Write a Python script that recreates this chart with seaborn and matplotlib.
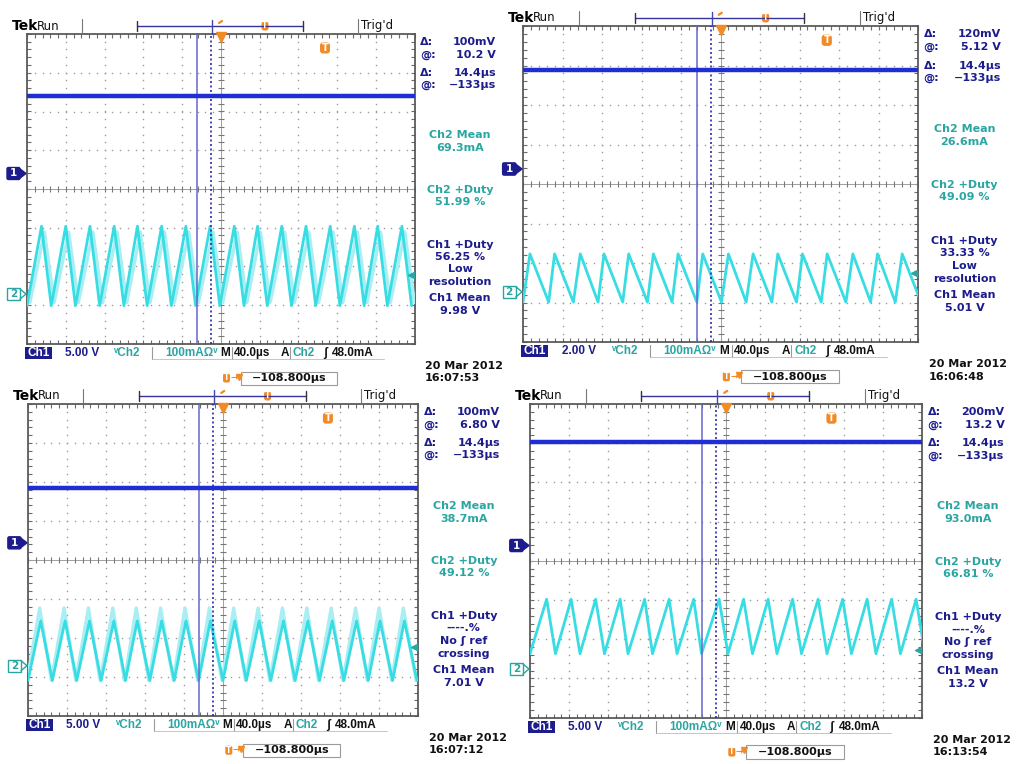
import numpy as np
import pandas as pd
import matplotlib
matplotlib.use("Agg")
import matplotlib.pyplot as plt
from matplotlib.patches import FancyBboxPatch, Rectangle, Polygon
import seaborn as sns

sns.set_theme(style="white")
plt.rcParams["font.family"] = ["DejaVu Sans"]

W, H = 1018, 764

# ---- acquisition settings shared by the four captures ----
time_per_div = 40.0        # µs/div
ch2_scale = 100.0          # mA/div
ch2_trigger = 48.0         # mA
horiz_position = -108.8    # µs
cursor_at = -133.0         # µs
cursor_delta = 14.4        # µs
date_text = "20 Mar 2012"

# ---- capture 1 (16:07:53) ----
c1_clock = "16:07:53"
c1_ch1_scale = 5.00
c1_ch1_mean = 9.98
c1_ch1_offset = 0.40
c1_ch2_offset = -2.71
c1_peaks_us = [15, 40, 65, 90, 114, 139, 164, 189, 214, 238, 263, 288, 313, 338, 362, 387]
c1_troughs_us = [0, 25, 50, 75, 100, 124, 149, 174, 199, 224, 248, 273, 298, 323, 348, 372, 397]
c1_peak_ma = [175, 160]      # main trace, ghost trace
c1_trough_ma = [-30, -22]
c1_ghost_shift_us = 3
c1_hcursor = ["100mV", "10.2 V"]
c1_ch2_mean = "69.3mA"
c1_ch2_duty = "51.99 %"
c1_ch1_duty = ["56.25 %", "Low", "resolution"]

# ---- capture 2 (16:06:48) ----
c2_clock = "16:06:48"
c2_ch1_scale = 2.00
c2_ch1_mean = 5.01
c2_ch1_offset = 0.38
c2_ch2_offset = -2.73
c2_peaks_us = [7, 32, 58, 82, 107, 132, 157, 182, 208, 233, 258, 283, 308, 334, 359, 384]
c2_troughs_us = [0, 26, 51, 76, 101, 126, 151, 176, 201, 226, 252, 277, 302, 327, 352, 377, 403]
c2_peak_ma = [96, 96]
c2_trough_ma = [-26, -26]
c2_ghost_shift_us = 0
c2_hcursor = ["120mV", "5.12 V"]
c2_ch2_mean = "26.6mA"
c2_ch2_duty = "49.09 %"
c2_ch1_duty = ["33.33 %", "Low", "resolution"]

# ---- capture 3 (16:07:12) ----
c3_clock = "16:07:12"
c3_ch1_scale = 5.00
c3_ch1_mean = 7.01
c3_ch1_offset = 0.44
c3_ch2_offset = -2.71
c3_peaks_us = [13, 38, 63, 88, 112, 137, 162, 187, 212, 237, 262, 287, 312, 337, 361, 386]
c3_troughs_us = [0, 25, 50, 75, 100, 125, 150, 175, 200, 224, 249, 274, 299, 324, 349, 374, 399]
c3_peak_ma = [115, 148]
c3_trough_ma = [-38, -38]
c3_ghost_shift_us = -1
c3_hcursor = ["100mV", "6.80 V"]
c3_ch2_mean = "38.7mA"
c3_ch2_duty = "49.12 %"
c3_ch1_duty = ["----.%", "No \u0283 ref", "crossing"]

# ---- capture 4 (16:13:54) ----
c4_clock = "16:13:54"
c4_ch1_scale = 5.00
c4_ch1_mean = 13.2
c4_ch1_offset = 0.39
c4_ch2_offset = -2.76
c4_peaks_us = [17, 42, 67, 92, 117, 142, 167, 193, 218, 243, 268, 294, 319, 344, 369, 394]
c4_troughs_us = [0, 26, 51, 76, 100, 125, 150, 175, 202, 227, 252, 277, 303, 328, 353, 378, 403]
c4_peak_ma = [178, 178]
c4_trough_ma = [39, 39]
c4_ghost_shift_us = 0
c4_hcursor = ["200mV", "13.2 V"]
c4_ch2_mean = "93.0mA"
c4_ch2_duty = "66.81 %"
c4_ch1_duty = ["----.%", "No \u0283 ref", "crossing"]

captures = [
    dict(clock=c1_clock, ch1_scale=c1_ch1_scale, ch1_mean=c1_ch1_mean, ch1_offset=c1_ch1_offset,
         ch2_offset=c1_ch2_offset, peaks=c1_peaks_us, troughs=c1_troughs_us, peak_ma=c1_peak_ma,
         trough_ma=c1_trough_ma, ghost=c1_ghost_shift_us, hcur=c1_hcursor, ch2_mean=c1_ch2_mean,
         ch2_duty=c1_ch2_duty, ch1_duty=c1_ch1_duty, has_ghost=True),
    dict(clock=c2_clock, ch1_scale=c2_ch1_scale, ch1_mean=c2_ch1_mean, ch1_offset=c2_ch1_offset,
         ch2_offset=c2_ch2_offset, peaks=c2_peaks_us, troughs=c2_troughs_us, peak_ma=c2_peak_ma,
         trough_ma=c2_trough_ma, ghost=c2_ghost_shift_us, hcur=c2_hcursor, ch2_mean=c2_ch2_mean,
         ch2_duty=c2_ch2_duty, ch1_duty=c2_ch1_duty, has_ghost=False),
    dict(clock=c3_clock, ch1_scale=c3_ch1_scale, ch1_mean=c3_ch1_mean, ch1_offset=c3_ch1_offset,
         ch2_offset=c3_ch2_offset, peaks=c3_peaks_us, troughs=c3_troughs_us, peak_ma=c3_peak_ma,
         trough_ma=c3_trough_ma, ghost=c3_ghost_shift_us, hcur=c3_hcursor, ch2_mean=c3_ch2_mean,
         ch2_duty=c3_ch2_duty, ch1_duty=c3_ch1_duty, has_ghost=True),
    dict(clock=c4_clock, ch1_scale=c4_ch1_scale, ch1_mean=c4_ch1_mean, ch1_offset=c4_ch1_offset,
         ch2_offset=c4_ch2_offset, peaks=c4_peaks_us, troughs=c4_troughs_us, peak_ma=c4_peak_ma,
         trough_ma=c4_trough_ma, ghost=c4_ghost_shift_us, hcur=c4_hcursor, ch2_mean=c4_ch2_mean,
         ch2_duty=c4_ch2_duty, ch1_duty=c4_ch1_duty, has_ghost=False),
]

# screen placement: graticule left, top and pixels per division
screens = [(27, 34, 38.75), (523, 26, 39.5), (28, 404, 39.0), (530, 404, 39.2)]

CH1_C = "#1e2ed2"
CH2_C = "#38dde3"
CH2_GHOST = "#a8eef2"
TEAL = "#2aa6a2"
NAVY = "#1c1c8c"
ORANGE = "#f28a26"
GRID = "#9a9a9a"

fig = plt.figure(figsize=(W / 100, H / 100), dpi=100)
fig.patch.set_facecolor("white")

ov = fig.add_axes([0, 0, 1, 1], zorder=10)
ov.set_xlim(0, W)
ov.set_ylim(H, 0)
ov.axis("off")
ov.patch.set_alpha(0)

BOLD = dict(fontweight="bold", fontsize=8)
STATUS = dict(fontweight="bold", fontsize=8.5, family=["Liberation Sans", "DejaVu Sans"])


def ch2_frame(peaks, troughs, hi, lo, shift, offset):
    t = np.concatenate([np.asarray(peaks, float), np.asarray(troughs, float)]) + shift
    v = np.concatenate([np.full(len(peaks), float(hi)), np.full(len(troughs), float(lo))])
    order = np.argsort(t, kind="stable")
    return pd.DataFrame({"t": t[order], "div": offset + v[order] / ch2_scale})


def draw_capture(cap, geo):
    gx, gy, d = geo
    k = d / 38.75

    def P(rx, ry):
        return gx + rx * k, gy + ry * k

    span = 10 * time_per_div
    ax = fig.add_axes([gx / W, 1 - (gy + 8 * d) / H, 10 * d / W, 8 * d / H], zorder=2)
    ax.set_xlim(0, span)
    ax.set_ylim(-4, 4)
    ax.set_facecolor("white")

    # graticule
    yy = np.arange(-4, 4.001, 0.2)
    xx = np.arange(0, span + 0.01, time_per_div / 5)
    for i in range(1, 10):
        if i == 5:
            continue
        ax.plot(np.full_like(yy, i * time_per_div), yy, ls="none", marker="s", ms=1.0,
                mew=0, color=GRID, zorder=1)
    for j in range(-3, 4):
        if j == 0:
            continue
        ax.plot(xx, np.full_like(xx, float(j)), ls="none", marker="s", ms=1.0,
                mew=0, color=GRID, zorder=1)
    ax.axhline(0, color="#a0a0a0", lw=0.7, zorder=1)
    ax.axvline(span / 2, color="#a0a0a0", lw=0.7, zorder=1)
    ax.plot(xx, np.zeros_like(xx), ls="none", marker="|", ms=5, mew=0.8, color="#777777", zorder=1)
    ax.plot(np.full_like(yy, span / 2), yy, ls="none", marker="_", ms=5, mew=0.8,
            color="#777777", zorder=1)

    # cursors
    t_a = span / 2 + (cursor_at - horiz_position)
    ax.axvline(t_a, color="#6666cc", lw=1.1, zorder=4)
    ax.axvline(t_a + cursor_delta, color="#2a2aa6", lw=1.2, ls=(0, (1.2, 1.5)), zorder=4)

    # channel 2 (current)
    if cap["has_ghost"]:
        g = ch2_frame(cap["peaks"], cap["troughs"], cap["peak_ma"][1], cap["trough_ma"][1],
                      cap["ghost"], cap["ch2_offset"])
        sns.lineplot(data=g, x="t", y="div", ax=ax, sort=False, estimator=None,
                     color=CH2_GHOST, lw=2.4, zorder=3)
    m = ch2_frame(cap["peaks"], cap["troughs"], cap["peak_ma"][0], cap["trough_ma"][0],
                  0, cap["ch2_offset"])
    sns.lineplot(data=m, x="t", y="div", ax=ax, sort=False, estimator=None,
                 color=CH2_C, lw=2.0, zorder=3)

    # channel 1 (voltage)
    lvl = cap["ch1_offset"] + cap["ch1_mean"] / cap["ch1_scale"]
    sns.lineplot(x=[0, span], y=[lvl, lvl], ax=ax, color=CH1_C, lw=3.2, zorder=5)

    ax.set_xlim(0, span)
    ax.set_ylim(-4, 4)
    ax.set_xlabel("")
    ax.set_ylabel("")
    ax.set_xticks(xx)
    ax.set_yticks(yy)
    ax.tick_params(direction="in", length=3, width=0.8, color="#6a6a6a", top=True, right=True,
                   bottom=True, left=True, labelbottom=False, labelleft=False)
    for sp in ax.spines.values():
        sp.set_visible(True)
        sp.set_color("#5a5a5a")
        sp.set_linewidth(1.3)

    # expansion point and trigger level markers
    ax.plot([span / 2], [4 - 0.09], marker="v", ms=6.5, color=ORANGE, clip_on=False, zorder=6)
    trig = cap["ch2_offset"] + ch2_trigger / ch2_scale
    ax.plot([span - 4], [trig], marker="<", ms=5, color=TEAL, clip_on=False, zorder=6)

    # ---- header ----
    x, y = P(-15, -8)
    ov.text(x, y, "Tek", fontsize=10, fontweight="bold", color="black", va="center", ha="left")
    x, y = P(10, -8)
    ov.text(x, y, "Run", fontsize=8.5, color="#111111", va="center", ha="left")
    for rx in (55, 331):
        x0, y0 = P(rx, -15)
        x1, y1 = P(rx, -1)
        ov.plot([x0, x1], [y0, y1], color="#777777", lw=0.8)
    xa, ya = P(110, -8)
    xb, _ = P(276, -8)
    ov.plot([xa, xb], [ya, ya], color="#333399", lw=1.0)
    for xe in (xa, xb):
        ov.plot([xe, xe], [ya - 5 * k, ya + 5 * k], color="#333333", lw=1.0)
    xm, _ = P(185, -8)
    ov.plot([xm, xm], [ya - 6 * k, gy], color="#4444aa", lw=1.0)
    xo, _ = P(192, -8)
    ov.plot([xo, xo + 3 * k], [ya - 3 * k, ya - 5 * k], color=ORANGE, lw=1.6)
    xz, _ = P(238, -8)
    ov.add_patch(FancyBboxPatch((xz - 3.5 * k, ya - 4.5 * k), 7 * k, 9 * k,
                                boxstyle="round,pad=0,rounding_size=2.5", fc=ORANGE, ec="none"))
    ov.text(xz, ya, "T", color="white", fontsize=5.5, fontweight="bold", ha="center", va="center")
    x, y = P(334, -8)
    ov.text(x, y, "Trig'd", fontsize=8.5, color="#111111", va="center", ha="left")

    # trigger-level badge
    xt, yt = P(298, 14)
    ov.add_patch(FancyBboxPatch((xt - 5 * k, yt - 5.5 * k), 10 * k, 11 * k,
                                boxstyle="round,pad=0,rounding_size=3", fc=ORANGE, ec="none"))
    ov.text(xt, yt, "T", color="white", fontsize=7, fontweight="bold", ha="center", va="center")

    # channel ground markers
    y1 = gy + (4 - cap["ch1_offset"]) * d
    ov.add_patch(FancyBboxPatch((gx - 20 * k, y1 - 6 * k), 13 * k, 12 * k,
                                boxstyle="round,pad=0,rounding_size=1.5", fc=NAVY, ec=NAVY))
    ov.add_patch(Polygon([[gx - 7.5 * k, y1 - 5 * k], [gx - 1, y1], [gx - 7.5 * k, y1 + 5 * k]],
                         closed=True, fc=NAVY, ec=NAVY))
    ov.text(gx - 13.5 * k, y1, "1", color="white", fontsize=7.5, fontweight="bold",
            ha="center", va="center")
    y2 = gy + (4 - cap["ch2_offset"]) * d
    ov.add_patch(Rectangle((gx - 20 * k, y2 - 6 * k), 13 * k, 12 * k, fc="white", ec=TEAL, lw=1.0))
    ov.plot([gx - 7 * k, gx - 1, gx - 7 * k], [y2 - 5 * k, y2, y2 + 5 * k], color=TEAL, lw=1.0)
    ov.text(gx - 13.5 * k, y2, "2", color=TEAL, fontsize=7.5, fontweight="bold",
            ha="center", va="center")

    # ---- readouts on the right ----
    lx, _ = P(393, 0)
    rx_, _ = P(469, 0)
    cx, _ = P(433, 0)
    rows = [("\u0394:", cap["hcur"][0], 8), ("@:", cap["hcur"][1], 21),
            ("\u0394:", f"{cursor_delta:.1f}\u00b5s", 39), ("@:", f"\u2212{abs(cursor_at):.0f}\u00b5s", 51)]
    for lab, val, ry in rows:
        _, y = P(0, ry)
        ov.text(lx, y, lab, color=NAVY, ha="left", va="center", **BOLD)
        ov.text(rx_, y, val, color=NAVY, ha="right", va="center", **BOLD)
    blocks = [("Ch2 Mean", 101, TEAL), (cap["ch2_mean"], 114, TEAL),
              ("Ch2 +Duty", 156, TEAL), (cap["ch2_duty"], 168, TEAL),
              ("Ch1 +Duty", 211, NAVY), (cap["ch1_duty"][0], 223, NAVY),
              (cap["ch1_duty"][1], 235, NAVY), (cap["ch1_duty"][2], 248, NAVY),
              ("Ch1 Mean", 264, NAVY), (f"{cap['ch1_mean']:.3g} V", 277, NAVY)]
    for txt, ry, col in blocks:
        _, y = P(0, ry)
        ov.text(cx, y, txt, color=col, ha="center", va="center", **BOLD)

    # ---- status bar ----
    _, ys = P(0, 319)
    x0, _ = P(-2, 0)
    ov.add_patch(Rectangle((x0, ys - 6 * k), 27 * k, 12 * k, fc=NAVY, ec="none"))
    ov.text(x0 + 13.5 * k, ys, "Ch1", color="white", ha="center", va="center", **STATUS)
    items = [(38, f"{cap['ch1_scale']:.2f} V", NAVY), (86, "\u1d5bCh2", TEAL),
             (138, f"{ch2_scale:.0f}mA\u03a9\u1d5b", TEAL),
             (193, "M", "#111111"), (207, f"{time_per_div:.1f}\u00b5s", "#111111"),
             (254, "A", "#111111"), (266, "Ch2", TEAL), (296, "\u0283", "#111111"),
             (305, f"{ch2_trigger:.1f}mA", "#111111")]
    for rx, txt, col in items:
        x, _ = P(rx, 0)
        ov.text(x, ys, txt, color=col, ha="left", va="center", **STATUS)
    for rx in (125, 205, 263):
        x, _ = P(rx, 0)
        ov.plot([x, x], [ys - 6 * k, ys + 6 * k], color="#9a9a9a", lw=0.8)
    xa, _ = P(125, 0)
    xb, _ = P(357, 0)
    ov.plot([xa, xb], [ys + 6 * k, ys + 6 * k], color="#bbbbbb", lw=0.6)

    # date / time
    xd, yd = P(398, 332)
    ov.text(xd, yd, date_text, color="#111111", ha="left", va="center", **BOLD)
    _, yc = P(0, 344)
    ov.text(xd, yc, cap["clock"], color="#111111", ha="left", va="center", **BOLD)

    # horizontal position readout
    xi, yi = P(196, 344)
    ov.add_patch(FancyBboxPatch((xi, yi - 4.5 * k), 7 * k, 9 * k,
                                boxstyle="round,pad=0,rounding_size=2", fc=ORANGE, ec="none"))
    ov.text(xi + 3.5 * k, yi, "T", color="white", fontsize=5.5, fontweight="bold",
            ha="center", va="center")
    ov.text(xi + 7.5 * k, yi, "\u2192", color=ORANGE, fontsize=6.5, fontweight="bold",
            ha="left", va="center")
    ov.plot([xi + 16 * k], [yi - 1.5], marker="v", ms=5, color=ORANGE)
    xbx, _ = P(214, 0)
    ov.add_patch(Rectangle((xbx, yi - 6.5 * k), 96 * k, 13 * k, fc="white", ec="#9a9a9a", lw=0.8))
    ov.text(xbx + 48 * k, yi, f"\u2212{abs(horiz_position):.3f}\u00b5s", color="#111111",
            ha="center", va="center", **BOLD)


for cap, geo in zip(captures, screens):
    draw_capture(cap, geo)

fig.savefig("out.png", dpi=100, facecolor="white")
